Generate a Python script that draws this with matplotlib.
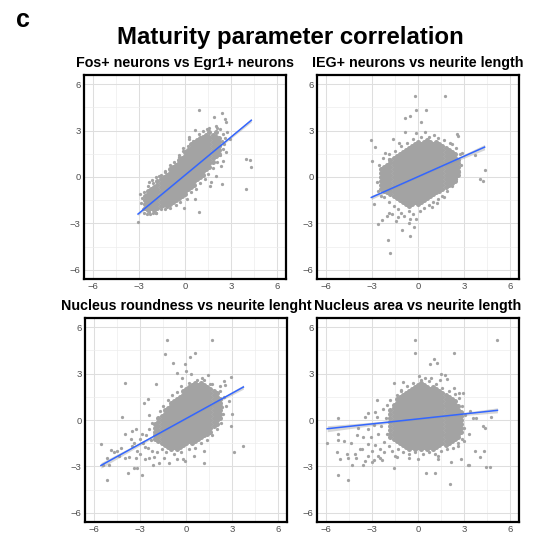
import numpy as np
import matplotlib
matplotlib.use("Agg")
import matplotlib.pyplot as plt

plt.rcParams['font.family'] = ['Liberation Sans', 'DejaVu Sans']

# ---------------- text ----------------
panel_letter = "c"
main_title = "Maturity parameter correlation"
panel_titles = ["Fos+ neurons vs Egr1+ neurons",
                "IEG+ neurons vs neurite length",
                "Nucleus roundness vs neurite lenght",
                "Nucleus area vs neurite length"]
tick_values = [-6, -3, 0, 3, 6]
tick_labels = ["\u22126", "\u22123", "0", "3", "6"]
minor_values = [-4.5, -1.5, 1.5, 4.5]
axis_limits = (-6.6, 6.6)

# ---------------- fitted lines ----------------
lm_slope = [0.82, 0.44, 0.545, 0.107]
lm_intercept = [0.12, 0.02, 0.09, 0.07]
n_cells = [2500, 2500, 2500, 2500]

# ---------------- panel 1: Fos+ vs Egr1+ ----------------
fos_egr1_points = [
    (0.93, 4.35), (2.40, 4.16), (1.90, 3.87), (2.60, 3.77), (2.71, 3.59), (0.67, 3.07),
    (0.28, 2.58), (1.47, 3.12), (2.12, 3.16), (2.49, 2.79), (2.77, 2.90), (2.92, 2.47),
    (2.55, 2.14), (2.66, 1.60), (2.49, 1.06), (2.34, 0.74), (2.01, 0.09), (1.67, -0.30),
    (1.62, -0.56), (2.40, -0.43), (3.96, 1.17), (4.22, 1.13), (4.33, 0.63), (4.00, -0.76),
    (0.63, -1.41), (0.89, -2.29), (-0.04, -2.01), (-0.80, -1.21), (-1.45, -1.86),
    (-1.88, -2.34), (-2.32, -2.25), (-2.75, -2.08), (-3.07, -2.90), (-2.79, -1.39),
    (-2.92, -1.10), (-2.32, -0.35), (-2.14, -0.17), (-1.71, 0.09), (-1.28, 0.30),
    (-0.91, 0.63), (-0.37, 1.28), (-0.15, 1.86), (0.24, 2.47),
    (-2.9, -1.7), (-2.7, -2.3), (-2.5, -2.4), (-2.3, -2.4), (-2.1, -2.3), (-1.9, -2.3),
    (-1.6, -2.1), (-1.3, -2.1), (-1.0, -2.0), (-0.6, -1.8), (-0.3, -1.6), (0.1, -1.4),
    (0.4, -1.0), (0.7, -0.8), (1.0, -0.4), (1.3, -0.1), (1.5, 0.2), (1.8, 0.6),
    (2.1, 1.0), (2.3, 1.4), (2.5, 1.8), (2.4, 2.3), (2.6, 2.5), (2.3, 3.1), (2.0, 3.3),
    (1.6, 3.2), (1.2, 3.0), (0.9, 2.8), (0.5, 2.3), (0.2, 2.0), (-0.1, 1.7),
    (-0.4, 1.4), (-0.7, 1.0), (-1.0, 0.8), (-1.3, 0.4), (-1.6, 0.1), (-1.9, 0.0),
    (-2.1, -0.4), (-2.4, -0.6), (-2.7, -1.0),
]
fos_egr1_core = {
    -2.6: [-2.0, -1.75, -1.5, -1.25],
    -2.4: [-2.12, -1.88, -1.62, -1.38, -1.12, -0.88],
    -2.2: [-2.0, -1.75, -1.5, -1.25, -1.0, -0.75],
    -2.0: [-2.12, -1.88, -1.62, -1.38, -1.12, -0.88, -0.62],
    -1.8: [-2.0, -1.75, -1.5, -1.25, -1.0, -0.75, -0.5, -0.25],
    -1.6: [-1.88, -1.62, -1.38, -1.12, -0.88, -0.62, -0.38, -0.12],
    -1.4: [-1.75, -1.5, -1.25, -1.0, -0.75, -0.5, -0.25, 0.0],
    -1.2: [-1.88, -1.62, -1.38, -1.12, -0.88, -0.62, -0.38, -0.12, 0.12],
    -1.0: [-1.75, -1.5, -1.25, -1.0, -0.75, -0.5, -0.25, 0.0, 0.25, 0.5],
    -0.8: [-1.62, -1.38, -1.12, -0.88, -0.62, -0.38, -0.12, 0.12, 0.38, 0.62],
    -0.6: [-1.5, -1.25, -1.0, -0.75, -0.5, -0.25, 0.0, 0.25, 0.5, 0.75],
    -0.4: [-1.38, -1.12, -0.88, -0.62, -0.38, -0.12, 0.12, 0.38, 0.62, 0.88, 1.12],
    -0.2: [-1.25, -1.0, -0.75, -0.5, -0.25, 0.0, 0.25, 0.5, 0.75, 1.0, 1.25],
    0.0: [-1.12, -0.88, -0.62, -0.38, -0.12, 0.12, 0.38, 0.62, 0.88, 1.12, 1.38, 1.62],
    0.2: [-0.75, -0.5, -0.25, 0.0, 0.25, 0.5, 0.75, 1.0, 1.25, 1.5, 1.75],
    0.4: [-0.62, -0.38, -0.12, 0.12, 0.38, 0.62, 0.88, 1.12, 1.38, 1.62, 1.88, 2.12],
    0.6: [-0.5, -0.25, 0.0, 0.25, 0.5, 0.75, 1.0, 1.25, 1.5, 1.75, 2.0, 2.25],
    0.8: [-0.12, 0.12, 0.38, 0.62, 0.88, 1.12, 1.38, 1.62, 1.88, 2.12, 2.38],
    1.0: [0.0, 0.25, 0.5, 0.75, 1.0, 1.25, 1.5, 1.75, 2.0, 2.25, 2.5],
    1.2: [0.12, 0.38, 0.62, 0.88, 1.12, 1.38, 1.62, 1.88, 2.12, 2.38, 2.62],
    1.4: [0.5, 0.75, 1.0, 1.25, 1.5, 1.75, 2.0, 2.25, 2.5, 2.75],
    1.6: [0.62, 0.88, 1.12, 1.38, 1.62, 1.88, 2.12, 2.38, 2.62, 2.88],
    1.8: [1.0, 1.25, 1.5, 1.75, 2.0, 2.25, 2.5, 2.75],
    2.0: [1.38, 1.62, 1.88, 2.12, 2.38, 2.62, 2.88],
    2.2: [1.5, 1.75, 2.0, 2.25, 2.5],
}

# ---------------- panel 2: IEG+ vs neurite length ----------------
ieg_neurite_points = [
    (-0.19, 5.22), (1.75, 5.22), (-0.11, 4.33), (0.50, 4.35), (-0.54, 3.96), (-0.84, 3.79),
    (0.17, 3.59), (-0.84, 2.92), (-0.11, 2.84), (0.45, 2.94), (1.04, 2.73), (2.58, 2.81),
    (2.62, 2.66), (-3.05, 2.40), (-2.79, 1.95), (-3.01, 1.04), (-1.62, 2.45), (-1.23, 2.23),
    (-2.14, 1.58), (-1.88, 1.15), (2.23, 2.12), (2.88, 1.58), (3.74, 1.41), (4.35, 0.43),
    (4.03, -0.11), (4.22, -0.24), (-2.86, -1.73), (-2.64, -3.07), (-2.32, -2.75),
    (-2.0, -2.53), (-1.88, -2.32), (-1.45, -2.86), (-1.06, -3.40), (-0.58, -2.97),
    (-0.52, -3.83), (-0.26, -3.23), (-1.99, -4.09), (-1.84, -4.91), (-0.15, -2.71),
    (0.93, -1.93), (1.26, -1.67), (1.71, -1.30),
    (-2.2, -1.3), (-1.9, -1.6), (-1.6, -1.9), (-1.3, -2.1), (-1.1, -2.3), (-0.9, -2.5),
    (-0.6, -2.2), (-0.3, -2.4), (0.1, -2.2), (0.4, -2.0), (0.7, -1.8), (1.0, -1.6),
    (-1.7, -2.4), (-2.4, -1.2), (-2.6, -0.9), (-2.7, -0.3), (-2.55, 0.8), (-2.3, 1.2),
    (-1.9, 1.5), (-1.5, 1.7), (-1.1, 2.0), (-0.7, 2.2), (-0.3, 2.45), (0.2, 2.6),
    (0.7, 2.6), (1.3, 2.55), (1.7, 2.4), (2.1, 2.2), (2.5, 1.9), (2.75, 1.5), (2.8, 0.8),
    (2.7, 0.3), (2.5, -0.1), (2.2, -0.6), (1.9, -0.9), (1.6, -1.2), (1.3, -1.4),
    (-0.5, -2.7), (-1.3, -2.6),
]
ieg_neurite_core = {
    -2.4: [-0.75, -0.5, -0.25, 0.0, 0.25, 0.5],
    -2.2: [-0.88, -0.62, -0.38, -0.12, 0.12, 0.38, 0.62],
    -2.0: [-1.0, -0.75, -0.5, -0.25, 0.0, 0.25, 0.5, 0.75],
    -1.8: [-1.12, -0.88, -0.62, -0.38, -0.12, 0.12, 0.38, 0.62, 0.88, 1.12],
    -1.6: [-1.25, -1.0, -0.75, -0.5, -0.25, 0.0, 0.25, 0.5, 0.75, 1.0, 1.25],
    -1.4: [-1.38, -1.12, -0.88, -0.62, -0.38, -0.12, 0.12, 0.38, 0.62, 0.88, 1.12, 1.38],
    -1.2: [-1.5, -1.25, -1.0, -0.75, -0.5, -0.25, 0.0, 0.25, 0.5, 0.75, 1.0, 1.25, 1.5],
    -1.0: [-1.62, -1.38, -1.12, -0.88, -0.62, -0.38, -0.12, 0.12, 0.38, 0.62, 0.88, 1.12, 1.38, 1.62],
    -0.8: [-1.75, -1.5, -1.25, -1.0, -0.75, -0.5, -0.25, 0.0, 0.25, 0.5, 0.75, 1.0, 1.25, 1.5, 1.75],
    -0.6: [-1.88, -1.62, -1.38, -1.12, -0.88, -0.62, -0.38, -0.12, 0.12, 0.38, 0.62, 0.88, 1.12, 1.38, 1.62, 1.88],
    -0.4: [-1.75, -1.5, -1.25, -1.0, -0.75, -0.5, -0.25, 0.0, 0.25, 0.5, 0.75, 1.0, 1.25, 1.5, 1.75, 2.0],
    -0.2: [-1.62, -1.38, -1.12, -0.88, -0.62, -0.38, -0.12, 0.12, 0.38, 0.62, 0.88, 1.12, 1.38, 1.62, 1.88, 2.12],
    0.0: [-1.75, -1.5, -1.25, -1.0, -0.75, -0.5, -0.25, 0.0, 0.25, 0.5, 0.75, 1.0, 1.25, 1.5, 1.75, 2.0, 2.25],
    0.2: [-1.62, -1.38, -1.12, -0.88, -0.62, -0.38, -0.12, 0.12, 0.38, 0.62, 0.88, 1.12, 1.38, 1.62, 1.88, 2.12],
    0.4: [-1.5, -1.25, -1.0, -0.75, -0.5, -0.25, 0.0, 0.25, 0.5, 0.75, 1.0, 1.25, 1.5, 1.75, 2.0, 2.25],
    0.6: [-1.38, -1.12, -0.88, -0.62, -0.38, -0.12, 0.12, 0.38, 0.62, 0.88, 1.12, 1.38, 1.62, 1.88, 2.12, 2.38],
    0.8: [-1.25, -1.0, -0.75, -0.5, -0.25, 0.0, 0.25, 0.5, 0.75, 1.0, 1.25, 1.5, 1.75, 2.0, 2.25],
    1.0: [-1.12, -0.88, -0.62, -0.38, -0.12, 0.12, 0.38, 0.62, 0.88, 1.12, 1.38, 1.62, 1.88, 2.12],
    1.2: [-1.0, -0.75, -0.5, -0.25, 0.0, 0.25, 0.5, 0.75, 1.0, 1.25, 1.5, 1.75, 2.0, 2.25],
    1.4: [-0.88, -0.62, -0.38, -0.12, 0.12, 0.38, 0.62, 0.88, 1.12, 1.38, 1.62, 1.88, 2.12],
    1.6: [-0.75, -0.5, -0.25, 0.0, 0.25, 0.5, 0.75, 1.0, 1.25, 1.5, 1.75, 2.0],
    1.8: [-0.62, -0.38, -0.12, 0.12, 0.38, 0.62, 0.88, 1.12, 1.38, 1.62, 1.88],
    2.0: [-0.5, -0.25, 0.0, 0.25, 0.5, 0.75, 1.0, 1.25, 1.5, 1.75],
    2.2: [-0.38, -0.12, 0.12, 0.38, 0.62, 0.88, 1.12, 1.38, 1.62],
    2.4: [-0.25, 0.0, 0.25, 0.5, 0.75, 1.0, 1.25, 1.5],
    2.6: [0.12, 0.38, 0.62, 0.88, 1.12],
}

# ---------------- panel 3: nucleus roundness vs neurite length ----------------
roundness_neurite_points = [
    (-1.26, 5.17), (1.67, 5.17), (-1.34, 4.26), (0.56, 4.31), (-0.87, 3.72), (-0.09, 3.61),
    (0.28, 4.05), (0.0, 3.18), (-0.56, 3.07), (-0.26, 2.75), (0.35, 2.97), (1.43, 2.92),
    (2.94, 2.81), (-4.0, 2.42), (-1.97, 2.36), (-2.47, 1.39), (-2.75, 1.13), (1.04, 2.71),
    (1.58, 2.36), (2.51, 2.53), (2.25, 2.21), (2.55, 2.27), (2.34, 0.84), (2.12, 0.26),
    (-4.20, 0.19), (-3.98, -0.93), (-3.51, -0.71), (-3.25, -0.61), (-5.56, -1.58),
    (-4.91, -1.97), (-5.13, -2.45), (-5.45, -2.88), (-5.02, -2.92), (-5.19, -3.85),
    (-4.48, -2.01), (-4.26, -1.80), (-3.98, -2.45), (-3.72, -2.40), (-3.55, -1.69),
    (-3.29, -2.45), (-3.40, -3.10), (-3.18, -3.10), (-3.77, -3.42), (-2.86, -3.57),
    (-2.68, -1.75), (-2.42, -2.45), (-2.16, -2.88), (-1.77, -2.77), (-1.45, -2.45),
    (-1.13, -2.77), (-0.58, -2.55), (-0.04, -2.66), (1.15, -2.77), (2.94, -0.39),
    (3.16, -2.08), (3.75, -1.65),
    (-3.0, -1.2), (-2.8, -1.5), (-2.6, -1.0), (-2.5, -1.8), (-2.4, -0.6), (-2.3, -1.3),
    (-2.2, -2.0), (-3.2, -2.0), (-3.4, -1.5), (-3.0, -2.2), (-2.7, -2.5), (-2.2, -0.2),
    (-2.4, 0.3), (-3.6, -1.2), (-4.4, -2.3), (-4.7, -2.1), (-2.9, -0.9), (-2.1, -2.4),
    (-1.9, -2.1), (-1.7, 0.6), (-1.5, 0.9), (-1.2, 1.3), (-0.9, 1.6), (-0.6, 1.8),
    (-0.3, 2.2), (0.2, 2.4), (0.7, 2.6), (1.2, 2.6), (1.7, 2.3), (2.2, 1.9), (2.5, 1.5),
    (2.6, 0.9), (2.4, 0.4), (2.3, -0.2), (2.0, -0.6), (1.7, -1.0), (1.4, -1.3),
    (1.0, -1.5), (0.6, -1.8), (0.2, -1.9), (-0.3, -2.1), (-0.8, -2.2), (-1.3, -2.1),
    (-1.6, -1.9), (1.2, -2.0), (0.5, -2.3), (-0.2, -2.5), (2.8, 1.2), (3.0, 0.4),
]
roundness_neurite_core = {
    -2.0: [-1.25, -1.0, -0.75, -0.5, -0.25],
    -1.8: [-1.38, -1.12, -0.88, -0.62, -0.38, -0.12, 0.12],
    -1.6: [-1.5, -1.25, -1.0, -0.75, -0.5, -0.25, 0.0, 0.25],
    -1.4: [-1.62, -1.38, -1.12, -0.88, -0.62, -0.38, -0.12, 0.12, 0.38, 0.62],
    -1.2: [-1.75, -1.5, -1.25, -1.0, -0.75, -0.5, -0.25, 0.0, 0.25, 0.5, 0.75],
    -1.0: [-1.88, -1.62, -1.38, -1.12, -0.88, -0.62, -0.38, -0.12, 0.12, 0.38, 0.62, 0.88, 1.12],
    -0.8: [-1.75, -1.5, -1.25, -1.0, -0.75, -0.5, -0.25, 0.0, 0.25, 0.5, 0.75, 1.0, 1.25],
    -0.6: [-1.88, -1.62, -1.38, -1.12, -0.88, -0.62, -0.38, -0.12, 0.12, 0.38, 0.62, 0.88, 1.12, 1.38],
    -0.4: [-1.75, -1.5, -1.25, -1.0, -0.75, -0.5, -0.25, 0.0, 0.25, 0.5, 0.75, 1.0, 1.25, 1.5],
    -0.2: [-1.62, -1.38, -1.12, -0.88, -0.62, -0.38, -0.12, 0.12, 0.38, 0.62, 0.88, 1.12, 1.38, 1.62, 1.88],
    0.0: [-1.5, -1.25, -1.0, -0.75, -0.5, -0.25, 0.0, 0.25, 0.5, 0.75, 1.0, 1.25, 1.5, 1.75, 2.0],
    0.2: [-1.38, -1.12, -0.88, -0.62, -0.38, -0.12, 0.12, 0.38, 0.62, 0.88, 1.12, 1.38, 1.62, 1.88, 2.12],
    0.4: [-1.5, -1.25, -1.0, -0.75, -0.5, -0.25, 0.0, 0.25, 0.5, 0.75, 1.0, 1.25, 1.5, 1.75, 2.0, 2.25],
    0.6: [-1.38, -1.12, -0.88, -0.62, -0.38, -0.12, 0.12, 0.38, 0.62, 0.88, 1.12, 1.38, 1.62, 1.88, 2.12, 2.38],
    0.8: [-1.25, -1.0, -0.75, -0.5, -0.25, 0.0, 0.25, 0.5, 0.75, 1.0, 1.25, 1.5, 1.75, 2.0, 2.25],
    1.0: [-1.12, -0.88, -0.62, -0.38, -0.12, 0.12, 0.38, 0.62, 0.88, 1.12, 1.38, 1.62, 1.88, 2.12, 2.38],
    1.2: [-1.0, -0.75, -0.5, -0.25, 0.0, 0.25, 0.5, 0.75, 1.0, 1.25, 1.5, 1.75, 2.0, 2.25],
    1.4: [-0.88, -0.62, -0.38, -0.12, 0.12, 0.38, 0.62, 0.88, 1.12, 1.38, 1.62, 1.88, 2.12],
    1.6: [-0.75, -0.5, -0.25, 0.0, 0.25, 0.5, 0.75, 1.0, 1.25, 1.5, 1.75, 2.0],
    1.8: [-0.38, -0.12, 0.12, 0.38, 0.62, 0.88, 1.12, 1.38, 1.62, 1.88],
    2.0: [-0.25, 0.0, 0.25, 0.5, 0.75, 1.0, 1.25, 1.5, 1.75],
    2.2: [0.12, 0.38, 0.62, 0.88, 1.12, 1.38],
}

# ---------------- panel 4: nucleus area vs neurite length ----------------
area_neurite_points = [
    (-0.22, 5.17), (5.19, 5.17), (-0.17, 4.31), (2.38, 4.33), (1.04, 3.94), (1.26, 3.72),
    (0.76, 3.61), (0.04, 2.86), (0.43, 2.75), (0.82, 2.75), (1.52, 2.97), (1.77, 2.92),
    (1.90, 2.68), (1.47, 2.58), (-1.56, 2.38), (-0.97, 2.47), (-1.08, 1.93), (2.38, 2.06),
    (2.71, 1.77), (2.92, 1.73), (-2.68, 1.30), (-2.81, 0.54), (-3.25, 0.48), (-3.46, 0.19),
    (-5.26, 0.11), (3.57, 0.11), (3.79, 0.11), (4.76, 0.19), (4.22, -0.39), (4.37, -0.50),
    (-5.93, -1.52), (-5.24, -0.93), (-5.24, -1.32), (-4.81, -1.36), (-4.37, -1.52),
    (-5.30, -2.06), (-4.65, -2.19), (-5.09, -2.55), (-4.59, -2.45), (-4.11, -2.19),
    (-4.07, -2.45), (-4.33, -2.88), (-3.57, -2.88), (-3.46, -2.66), (-3.03, -2.73),
    (-3.68, -1.90), (-3.25, -1.58), (-2.49, -2.49), (-2.38, -2.58), (-5.24, -3.53),
    (-4.55, -3.85), (-1.56, -3.10), (-1.34, -2.40), (-0.61, -2.49), (0.54, -3.40),
    (1.08, -3.40), (2.06, -4.13), (1.30, -2.34), (2.16, -2.71), (2.81, -2.55),
    (3.25, -2.88), (3.35, -2.88), (3.72, -2.01), (4.07, -2.40), (4.33, -2.01),
    (4.44, -3.05), (4.72, -3.05), (3.03, -1.36), (2.60, -1.69),
    (-3.3, -0.6), (-3.1, -1.1), (-2.9, -0.3), (-2.8, -1.6), (-2.7, 0.2), (-2.6, -0.9),
    (-2.5, -1.9), (-2.4, -0.4), (-2.3, 0.7), (-2.2, -1.4), (-2.1, 0.1), (-2.0, -0.9),
    (-2.0, 1.0), (-1.9, -1.7), (-1.8, 1.3), (-2.6, -2.3), (-3.0, -2.0), (-3.6, -1.1),
    (-3.9, -0.5), (-2.2, -2.1), (-1.7, -2.0), (-1.3, -1.9), (-1.0, -2.1), (-0.6, -2.2),
    (-0.2, -2.1), (0.3, -2.2), (0.7, -2.1), (1.1, -2.2), (1.5, -2.0), (1.9, -1.9),
    (2.3, -1.8), (2.6, -1.5), (2.9, -1.2), (3.0, -0.5), (3.1, 0.3), (2.9, 0.9),
    (2.7, 1.4), (2.4, 1.7), (2.0, 1.9), (1.6, 2.1), (1.2, 2.3), (0.7, 2.5), (0.2, 2.6),
    (-0.3, 2.4), (-0.7, 2.2), (-1.1, 1.9), (-1.4, 1.6), (3.3, -0.9), (3.4, 0.6),
    (-1.5, -2.3), (0.0, -2.5), (1.3, -2.5), (-2.9, -2.6), (-4.0, -1.0), (-3.8, -1.9),
    (-3.3, -2.3),
]
area_neurite_core = {
    -1.8: [-1.12, -0.88, -0.62, -0.38, -0.12, 0.12, 0.38, 0.62],
    -1.6: [-1.25, -1.0, -0.75, -0.5, -0.25, 0.0, 0.25, 0.5, 0.75, 1.0],
    -1.4: [-1.38, -1.12, -0.88, -0.62, -0.38, -0.12, 0.12, 0.38, 0.62, 0.88, 1.12, 1.38],
    -1.2: [-1.5, -1.25, -1.0, -0.75, -0.5, -0.25, 0.0, 0.25, 0.5, 0.75, 1.0, 1.25, 1.5],
    -1.0: [-1.62, -1.38, -1.12, -0.88, -0.62, -0.38, -0.12, 0.12, 0.38, 0.62, 0.88, 1.12, 1.38, 1.62],
    -0.8: [-1.75, -1.5, -1.25, -1.0, -0.75, -0.5, -0.25, 0.0, 0.25, 0.5, 0.75, 1.0, 1.25, 1.5, 1.75],
    -0.6: [-1.88, -1.62, -1.38, -1.12, -0.88, -0.62, -0.38, -0.12, 0.12, 0.38, 0.62, 0.88, 1.12, 1.38, 1.62, 1.88],
    -0.4: [-1.75, -1.5, -1.25, -1.0, -0.75, -0.5, -0.25, 0.0, 0.25, 0.5, 0.75, 1.0, 1.25, 1.5, 1.75, 2.0],
    -0.2: [-1.88, -1.62, -1.38, -1.12, -0.88, -0.62, -0.38, -0.12, 0.12, 0.38, 0.62, 0.88, 1.12, 1.38, 1.62, 1.88, 2.12],
    0.0: [-1.75, -1.5, -1.25, -1.0, -0.75, -0.5, -0.25, 0.0, 0.25, 0.5, 0.75, 1.0, 1.25, 1.5, 1.75, 2.0, 2.25],
    0.2: [-1.88, -1.62, -1.38, -1.12, -0.88, -0.62, -0.38, -0.12, 0.12, 0.38, 0.62, 0.88, 1.12, 1.38, 1.62, 1.88, 2.12, 2.38],
    0.4: [-1.75, -1.5, -1.25, -1.0, -0.75, -0.5, -0.25, 0.0, 0.25, 0.5, 0.75, 1.0, 1.25, 1.5, 1.75, 2.0, 2.25],
    0.6: [-1.88, -1.62, -1.38, -1.12, -0.88, -0.62, -0.38, -0.12, 0.12, 0.38, 0.62, 0.88, 1.12, 1.38, 1.62, 1.88, 2.12],
    0.8: [-1.75, -1.5, -1.25, -1.0, -0.75, -0.5, -0.25, 0.0, 0.25, 0.5, 0.75, 1.0, 1.25, 1.5, 1.75, 2.0],
    1.0: [-1.88, -1.62, -1.38, -1.12, -0.88, -0.62, -0.38, -0.12, 0.12, 0.38, 0.62, 0.88, 1.12, 1.38, 1.62, 1.88, 2.12],
    1.2: [-1.75, -1.5, -1.25, -1.0, -0.75, -0.5, -0.25, 0.0, 0.25, 0.5, 0.75, 1.0, 1.25, 1.5, 1.75, 2.0],
    1.4: [-1.62, -1.38, -1.12, -0.88, -0.62, -0.38, -0.12, 0.12, 0.38, 0.62, 0.88, 1.12, 1.38, 1.62, 1.88],
    1.6: [-1.5, -1.25, -1.0, -0.75, -0.5, -0.25, 0.0, 0.25, 0.5, 0.75, 1.0, 1.25, 1.5, 1.75],
    1.8: [-1.62, -1.38, -1.12, -0.88, -0.62, -0.38, -0.12, 0.12, 0.38, 0.62, 0.88, 1.12, 1.38, 1.62],
    2.0: [-1.5, -1.25, -1.0, -0.75, -0.5, -0.25, 0.0, 0.25, 0.5, 0.75, 1.0, 1.25, 1.5],
    2.2: [-1.38, -1.12, -0.88, -0.62, -0.38, -0.12, 0.12, 0.38, 0.62, 0.88, 1.12, 1.38],
    2.4: [-1.25, -1.0, -0.75, -0.5, -0.25, 0.0, 0.25, 0.5, 0.75, 1.0, 1.25],
    2.6: [-1.12, -0.88, -0.62, -0.38, -0.12, 0.12, 0.38, 0.62, 0.88],
    2.8: [-0.75, -0.5, -0.25, 0.0, 0.25, 0.5],
}

panel_points = [fos_egr1_points, ieg_neurite_points, roundness_neurite_points, area_neurite_points]
panel_cores = [fos_egr1_core, ieg_neurite_core, roundness_neurite_core, area_neurite_core]


def split_points(points):
    return np.array([p[0] for p in points]), np.array([p[1] for p in points])


def split_core(core):
    xs, ys = [], []
    for cx, col in core.items():
        for cy in col:
            xs.append(cx)
            ys.append(cy)
    return np.array(xs), np.array(ys)


W = H = 533
fig = plt.figure(figsize=(W / 100, H / 100), dpi=100)
fig.patch.set_facecolor("white")

# axes boxes in pixels: (left, top, right, bottom)
boxes = [(84, 75, 286, 279), (317, 75, 519, 279),
         (85, 318, 287, 522), (317, 318, 519, 522)]

point_color = "#A3A3A3"

for i, (l, t, r, b) in enumerate(boxes):
    ax = fig.add_axes([l / W, 1 - b / H, (r - l) / W, (b - t) / H])
    px, py = split_points(panel_points[i])
    cx, cy = split_core(panel_cores[i])
    x = np.concatenate([px, cx])
    y = np.concatenate([py, cy])
    ax.set_xlim(*axis_limits)
    ax.set_ylim(*axis_limits)
    ax.set_xticks(tick_values)
    ax.set_xticklabels(tick_labels)
    ax.set_yticks(tick_values)
    ax.set_yticklabels(tick_labels)
    ax.set_xticks(minor_values, minor=True)
    ax.set_yticks(minor_values, minor=True)
    ax.grid(which="major", color="#DEDEDE", lw=0.75)
    ax.grid(which="minor", color="#EDEDED", lw=0.5)
    ax.set_axisbelow(True)
    ax.tick_params(which="both", length=0, labelsize=6.8, labelcolor="#4D4D4D", pad=2.5)
    for sp in ax.spines.values():
        sp.set_linewidth(1.6)
        sp.set_color("black")

    # dense core: overlapping cells drawn as a solid mass
    ax.scatter(cx, cy, s=13, c=point_color, linewidths=0, zorder=2)
    ax.scatter(px, py, s=5.5, c=point_color, linewidths=0, zorder=2)

    # fitted line with confidence band (stored coefficients, spread from data)
    xs = np.linspace(x.min(), x.max(), 100)
    yfit = lm_slope[i] * xs + lm_intercept[i]
    resid = y - (lm_slope[i] * x + lm_intercept[i])
    s = resid.std()
    n = n_cells[i]
    hw = 1.96 * s * np.sqrt(1 / n + (xs - x.mean()) ** 2 / (n * x.var()))
    ax.fill_between(xs, yfit - hw, yfit + hw, color="#999999", alpha=0.4, lw=0, zorder=3)
    ax.plot(xs, yfit, color="#3366FF", lw=1.1, zorder=4)

    ax.set_title(panel_titles[i], fontsize=10.3, fontweight="bold", pad=5.5)

fig.text(290 / W, 1 - 44 / H, main_title, ha="center", va="baseline",
         fontsize=17.3, fontweight="bold")
fig.text(23 / W, 1 - 27 / H, panel_letter, ha="center", va="baseline",
         fontsize=18, fontweight="bold")

fig.savefig("out.png", dpi=100)
